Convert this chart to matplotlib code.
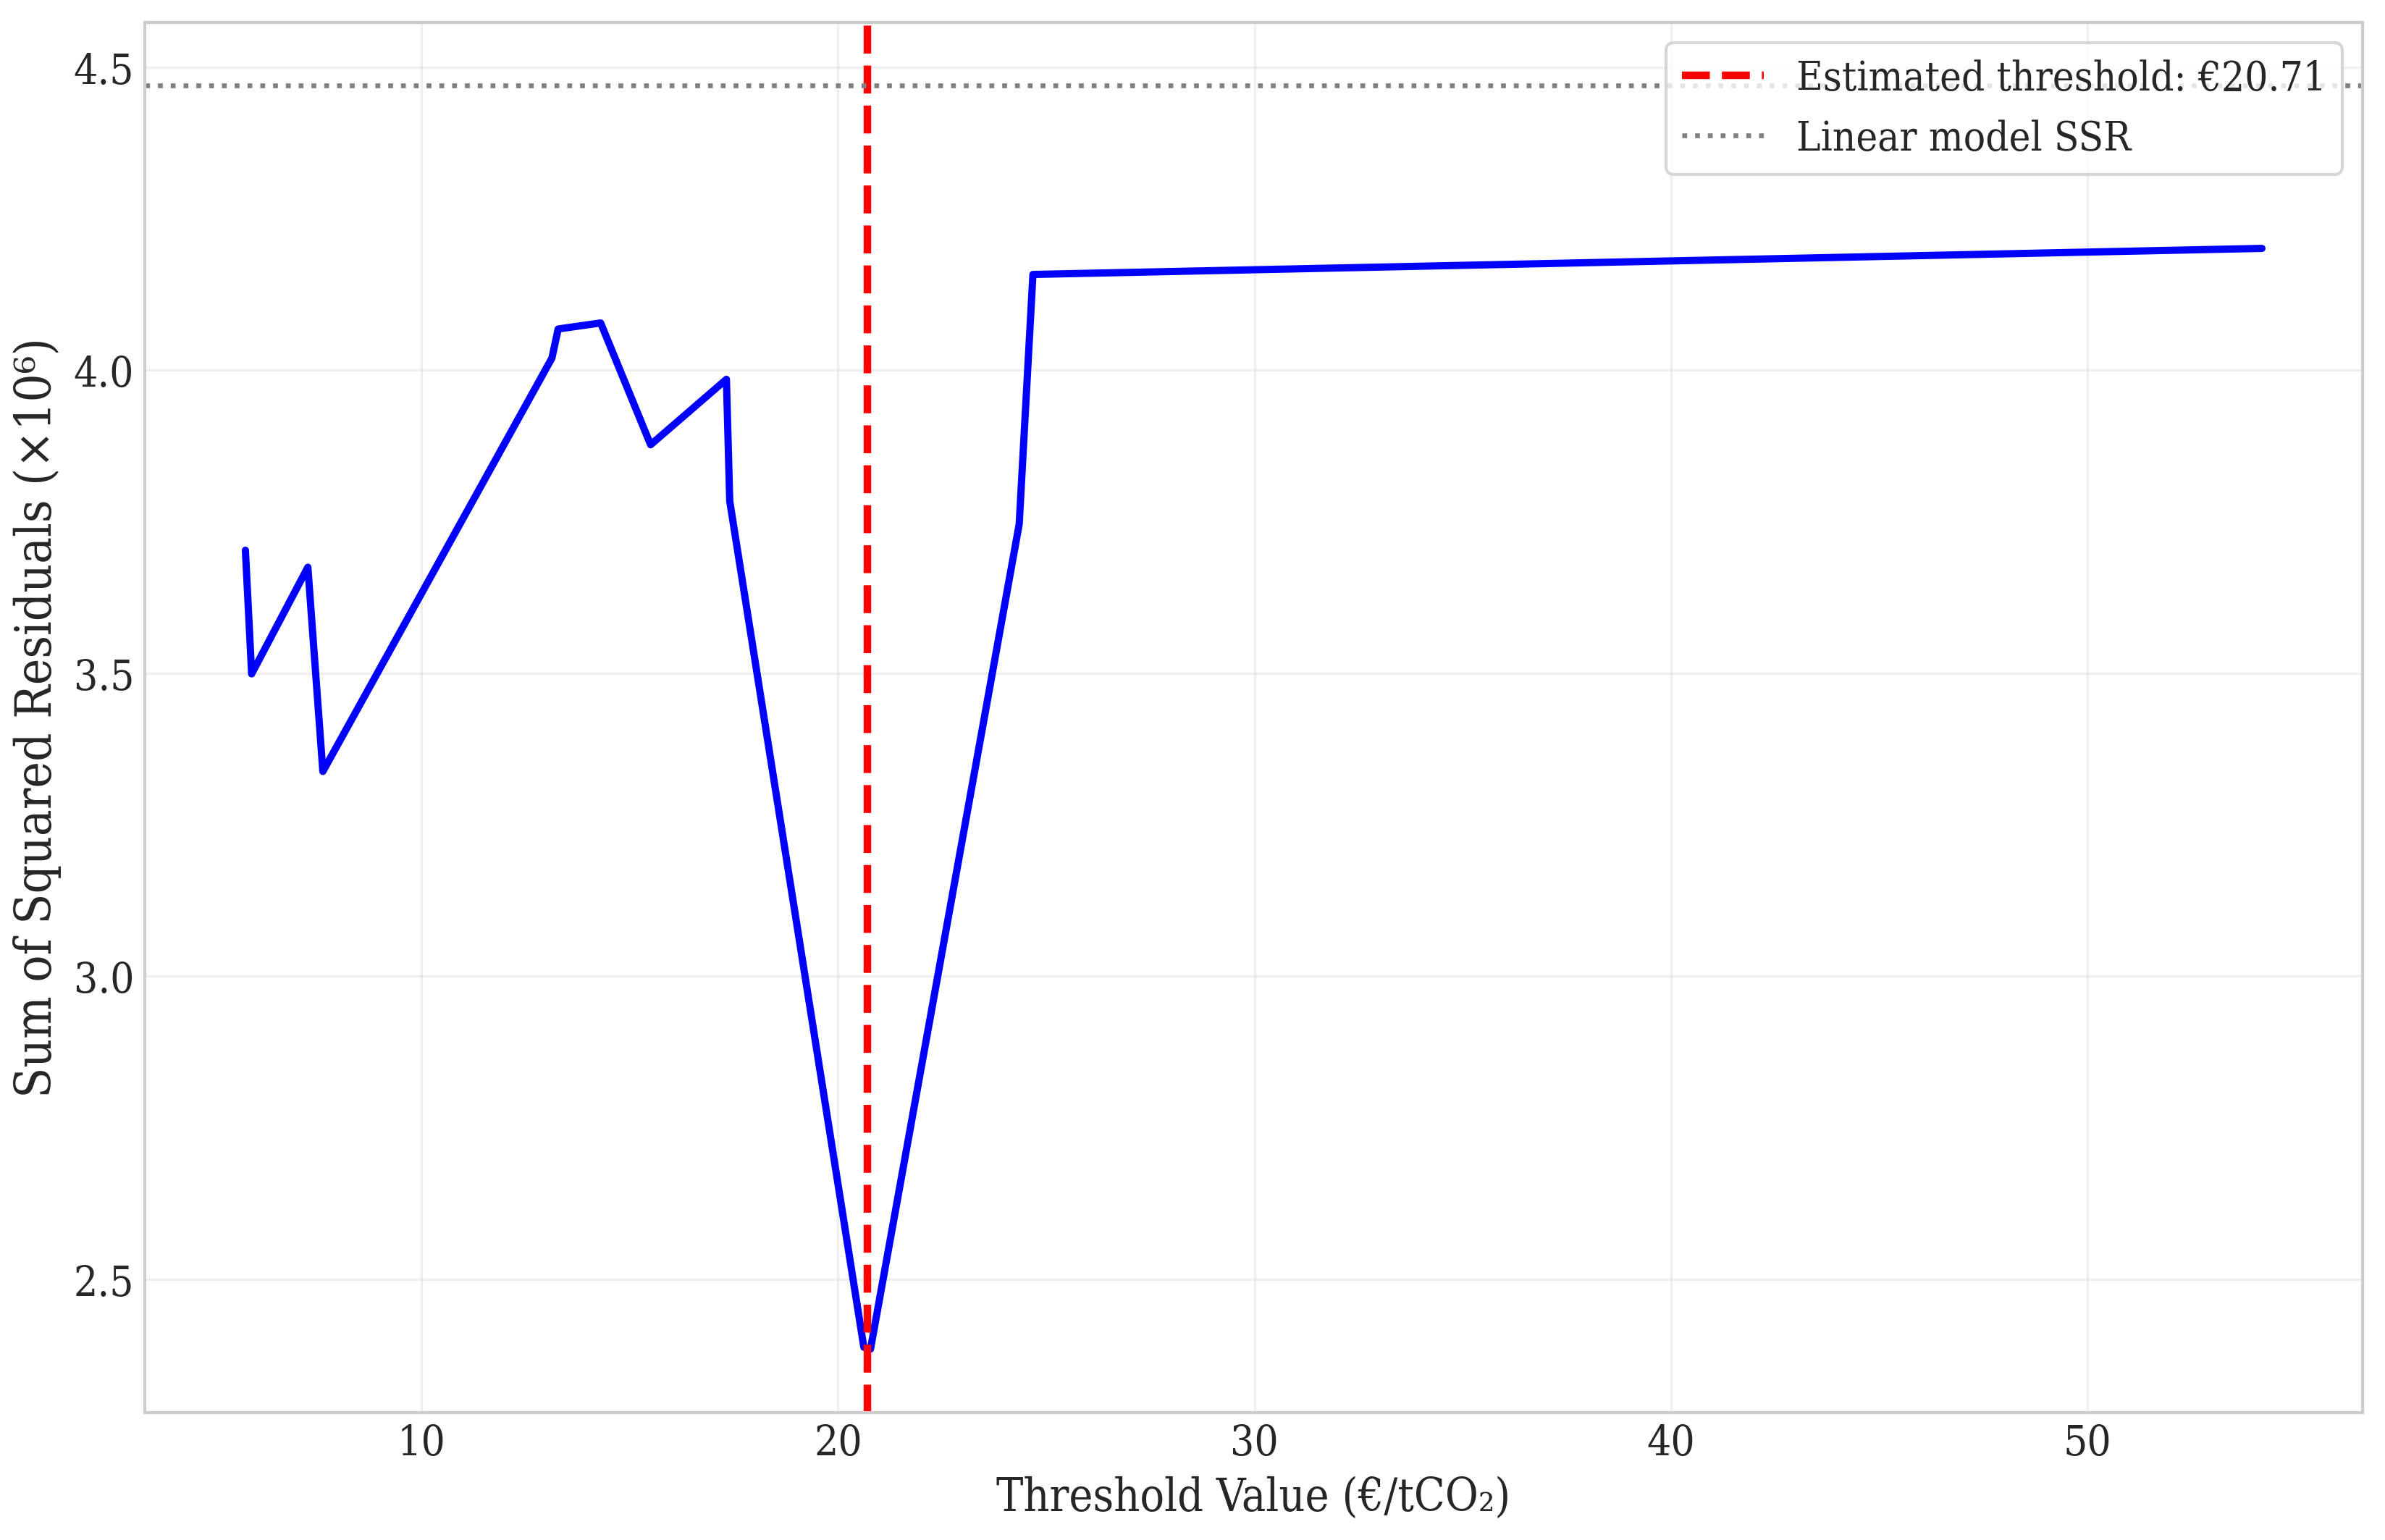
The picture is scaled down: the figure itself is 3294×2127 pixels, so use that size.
import matplotlib
matplotlib.use('Agg')
import matplotlib.pyplot as plt

plt.style.use('seaborn-v0_8-whitegrid')
plt.rcParams['font.family'] = 'DejaVu Serif'
plt.rcParams['font.stretch'] = 'condensed'

# grid search results (SSR in millions)
thresholds = [5.77, 5.92, 7.27, 7.63, 13.13, 13.28, 14.30, 15.50, 17.32, 17.40,
              20.62, 20.78, 24.35, 24.68, 54.19]
ssr = [3.703, 3.499, 3.675, 3.338, 4.020, 4.068, 4.078, 3.877, 3.985, 3.784,
       2.388, 2.385, 3.746, 4.158, 4.201]
best_threshold = 20.71
linear_ssr = 4.47

fig = plt.figure(figsize=(10.983, 7.093), dpi=300)
ax = fig.add_axes([0.0606, 0.0829, 0.9298, 0.9023])

ax.plot(thresholds, ssr, color='blue', linewidth=2.4)
ax.axvline(best_threshold, color='red', linestyle='--', linewidth=2.5,
           label=f'Estimated threshold: €{best_threshold:.2f}')
ax.axhline(linear_ssr, color='gray', linestyle=':', linewidth=1.6,
           label='Linear model SSR')

ax.set_xlabel('Threshold Value (€/tCO₂)', fontsize=15)
ax.set_ylabel('Sum of Squared Residuals (×10⁶)', fontsize=16.5)
ax.tick_params(labelsize=14)
ax.grid(True, alpha=0.3)
ax.legend(loc='upper right', fontsize=13.5, frameon=True, facecolor='white')

fig.savefig('out.png', dpi=300)
